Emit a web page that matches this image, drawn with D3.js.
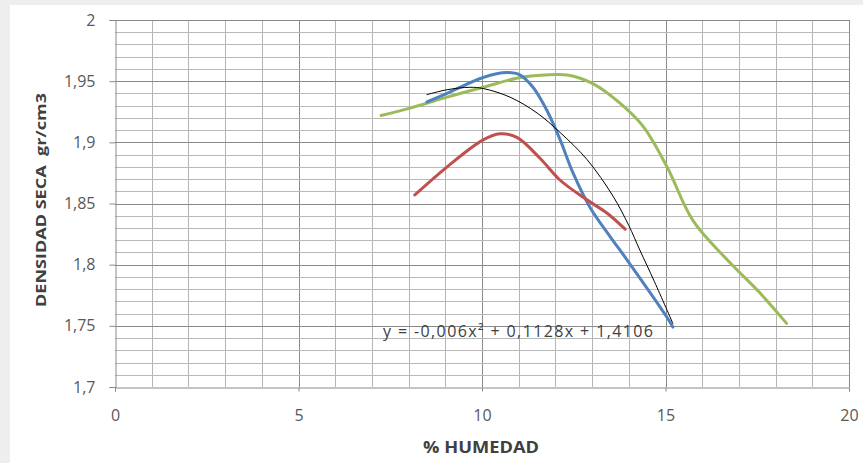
<!DOCTYPE html>
<html>
<head>
<meta charset="utf-8">
<script src="https://cdn.jsdelivr.net/npm/d3@7"></script>
<style>
  body { margin: 0; background: #eeeeee; }
  svg { display: block; }
</style>
</head>
<body>
<div id="chart"></div>
<script>
// humedad (%) / densidad seca
const humBlue  = [8.5, 9.05, 10.03, 10.68, 11.04, 11.39, 11.77, 12.13, 12.48, 12.94, 13.49, 13.95, 15.04, 15.2];
const denBlue  = [1.933, 1.940, 1.953, 1.957, 1.955, 1.945, 1.926, 1.902, 1.875, 1.847, 1.823, 1.804, 1.757, 1.749];

const humRed   = [8.17, 9.05, 10.03, 10.49, 10.95, 11.58, 12.13, 12.86, 13.41, 13.9];
const denRed   = [1.857, 1.880, 1.902, 1.907, 1.904, 1.887, 1.869, 1.853, 1.842, 1.829];

const humGreen = [7.25, 8.04, 9.05, 10.03, 11.04, 11.7, 12.32, 13.02, 13.76, 14.39, 15.04, 15.75, 16.68, 17.57, 18.3];
const denGreen = [1.922, 1.928, 1.937, 1.945, 1.953, 1.955, 1.955, 1.948, 1.932, 1.913, 1.880, 1.836, 1.804, 1.777, 1.752];

// tendencia (polinómica) de la serie azul
const humTrend = [8.5, 9.05, 9.67, 10.03, 10.76, 11.5, 12.13, 12.86, 13.57, 14.0, 14.3, 14.7, 15.2];
const denTrend = [1.939, 1.943, 1.945, 1.944, 1.937, 1.924, 1.908, 1.886, 1.856, 1.832, 1.812, 1.786, 1.752];

const xTicks = [0, 5, 10, 15, 20];
const yTicks = [1.7, 1.75, 1.8, 1.85, 1.9, 1.95, 2];
const ecuacion = 'y = -0,006x² + 0,1128x + 1,4106';

const WIDTH = 863;
const HEIGHT = 463;
const margin = {top: 20, right: 14, bottom: 76, left: 115};

const svg = d3.select('#chart')
  .append('svg')
    .attr('width', WIDTH)
    .attr('height', HEIGHT);

// white card
svg.append('rect')
  .attr('x', 10).attr('y', 5)
  .attr('width', WIDTH - 10).attr('height', HEIGHT - 5)
  .attr('fill', '#fff');

const x = d3.scaleLinear().domain([0, 20]).range([margin.left, WIDTH - margin.right]);
const y = d3.scaleLinear().domain([1.7, 2]).range([HEIGHT - margin.bottom, margin.top]);

const fmt = d => String(d).replace('.', ',');

// grid
const grid = svg.append('g');
grid.selectAll('.vg')
  .data(d3.range(1, 21))
  .enter().append('line')
    .attr('x1', d => Math.round(x(d)) + 0.5).attr('x2', d => Math.round(x(d)) + 0.5)
    .attr('y1', y(1.7)).attr('y2', y(2))
    .attr('stroke', d => d % 5 === 0 ? '#8a8a8a' : '#b4b4b4')
    .attr('stroke-width', 1);

grid.selectAll('.hg')
  .data(d3.range(1, 31).map(i => 1.7 + i * 0.01))
  .enter().append('line')
    .attr('x1', x(0)).attr('x2', x(20))
    .attr('y1', d => Math.round(y(d)) + 0.5).attr('y2', d => Math.round(y(d)) + 0.5)
    .attr('stroke', (d, i) => (i + 1) % 5 === 0 ? '#8a8a8a' : '#b8b8b8')
    .attr('stroke-width', 1);

// axes
const xAxis = d3.axisBottom(x).tickValues(xTicks).tickSize(4).tickFormat(fmt);
const yAxis = d3.axisLeft(y).tickValues(yTicks).tickSize(6).tickFormat(fmt);

const gx = svg.append('g')
  .attr('transform', `translate(0,${Math.round(y(1.7)) + 0.5})`)
  .call(xAxis);
const gy = svg.append('g')
  .attr('transform', `translate(${Math.round(x(0)) + 0.5},0)`)
  .call(yAxis);

[gx, gy].forEach(g => {
  g.select('.domain').attr('stroke', '#8a8a8a');
  g.selectAll('.tick line').attr('stroke', '#8a8a8a');
  g.selectAll('.tick text')
    .attr('fill', '#595959')
    .style('font-family', 'Open Sans, sans-serif')
    .style('font-size', '16px');
});
gx.selectAll('.tick text').attr('y', 33).attr('dy', 0);
gy.selectAll('.tick text').attr('x', -20);

// series
const line = d3.line()
  .x(d => x(d[0]))
  .y(d => y(d[1]))
  .curve(d3.curveCatmullRom.alpha(0.5));

const series = [
  {hum: humGreen, den: denGreen, color: '#9bbb59', w: 3},
  {hum: humBlue,  den: denBlue,  color: '#4f81bd', w: 3},
  {hum: humRed,   den: denRed,   color: '#c0504d', w: 3},
  {hum: humTrend, den: denTrend, color: '#000',    w: 1}
];

svg.selectAll('.serie')
  .data(series)
  .enter().append('path')
    .attr('class', 'serie')
    .attr('d', s => line(d3.zip(s.hum, s.den)))
    .attr('fill', 'none')
    .attr('stroke', s => s.color)
    .attr('stroke-width', s => s.w)
    .attr('stroke-linecap', 'round')
    .attr('stroke-linejoin', 'round');

// equation
svg.append('text')
  .attr('x', 383)
  .attr('y', 337)
  .attr('fill', '#404040')
  .attr('textLength', 270)
  .attr('lengthAdjust', 'spacing')
  .style('font-family', 'Open Sans, sans-serif')
  .style('font-size', '16px')
  .text(ecuacion);

// titles
svg.append('text')
  .attr('x', 481)
  .attr('y', 453)
  .attr('text-anchor', 'middle')
  .attr('fill', '#404040')
  .attr('textLength', 116)
  .attr('lengthAdjust', 'spacingAndGlyphs')
  .style('font-family', 'Open Sans, sans-serif')
  .style('font-size', '16px')
  .style('font-weight', 'bold')
  .text('% HUMEDAD');

svg.append('text')
  .attr('transform', 'translate(46,200) rotate(-90)')
  .attr('text-anchor', 'middle')
  .attr('fill', '#404040')
  .attr('textLength', 214)
  .attr('lengthAdjust', 'spacingAndGlyphs')
  .style('font-family', 'Open Sans, sans-serif')
  .style('font-size', '15px')
  .style('font-weight', 'bold')
  .style('white-space', 'pre')
  .text('DENSIDAD SECA  gr/cm3');
</script>
</body>
</html>
